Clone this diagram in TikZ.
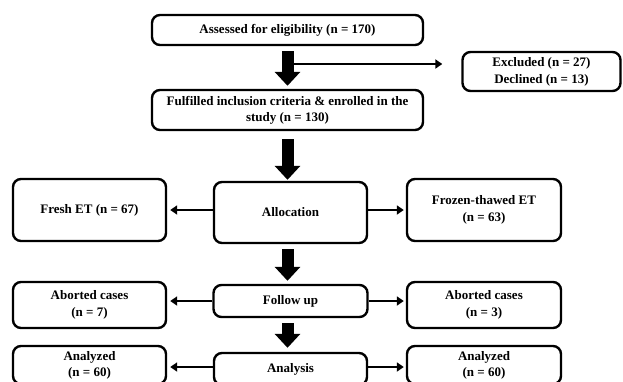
\documentclass[tikz,border=0pt]{standalone}
\usepackage{fontspec}
\setmainfont{Liberation Serif}
\usetikzlibrary{arrows.meta}
\newlength{\du}
\setlength{\du}{1pt}

\begin{document}
\begin{tikzpicture}[yscale=-1,
  box/.style={draw=black, line width=2.4\du, rounded corners=8\du, fill=white, align=center, inner sep=0pt, font=\fontsize{13}{16}\selectfont\bfseries},
  thinarrow/.style={draw=black, line width=2.2\du, -{Triangle[length=7pt,width=9pt]}},
  fatarrow/.style={draw=black, line width=12\du, -{Triangle[length=14pt,width=25pt]}}]
\useasboundingbox (0\du,0\du) rectangle (623\du,381\du);
\clip (0\du,0\du) rectangle (623\du,381\du);
% boxes
\node[box, minimum width=271\du, minimum height=30\du] (assess) at (287.5\du,30\du) {Assessed for eligibility (n = 170)};
\node[box, minimum width=271\du, minimum height=40\du] (fulfil) at (287.5\du,110\du) {Fulfilled inclusion criteria \& enrolled in the\\study (n = 130)};
\node[box, minimum width=158\du, minimum height=39\du, font=\fontsize{13}{17}\selectfont\bfseries] (excl) at (541.5\du,71.5\du) {Excluded (n = 27)\\Declined (n = 13)};
\node[box, minimum width=153\du, minimum height=61\du] (alloc) at (290.5\du,212.5\du) {Allocation};
\node[box, minimum width=153\du, minimum height=62\du] (fresh) at (89.5\du,210\du) {Fresh ET (n = 67)};
\node[box, minimum width=154\du, minimum height=62\du, font=\fontsize{13}{17}\selectfont\bfseries] (frozen) at (484\du,210\du) {Frozen-thawed ET\\(n = 63)};
\node[box, minimum width=154\du, minimum height=32\du] (follow) at (290.5\du,301\du) {Follow up};
\node[box, minimum width=153\du, minimum height=46\du, font=\fontsize{13}{17}\selectfont\bfseries] (abortl) at (89.5\du,305\du) {Aborted cases\\(n = 7)};
\node[box, minimum width=154\du, minimum height=46\du, font=\fontsize{13}{17}\selectfont\bfseries] (abortr) at (484\du,305\du) {Aborted cases\\(n = 3)};
\node[box, minimum width=153\du, minimum height=32\du] (analysis) at (290.5\du,369\du) {Analysis};
\node[box, minimum width=153\du, minimum height=38\du] (anall) at (89.5\du,365\du) {Analyzed\\(n = 60)};
\node[box, minimum width=154\du, minimum height=38\du] (analr) at (484\du,365\du) {Analyzed\\(n = 60)};
% main flow
\draw[fatarrow, shorten <=5pt, shorten >=3pt] (assess.south) -- (fulfil.north);
\draw[fatarrow, shorten <=8pt, shorten >=1pt] (fulfil.south) -- (fulfil.south |- alloc.north);
\draw[fatarrow, shorten <=5pt, shorten >=3pt] (alloc.south -| fulfil.south) -- (follow.north -| fulfil.south);
\draw[fatarrow, shorten <=5pt, shorten >=4pt] (follow.south -| fulfil.south) -- (analysis.north -| fulfil.south);
\coordinate (branch) at (287.5\du,64\du);
\draw[thinarrow, shorten >=19pt] (branch) -- (branch -| excl.west);
% side arrows
\draw[thinarrow, shorten >=3pt] (fresh.east -| alloc.west) -- (fresh.east);
\draw[thinarrow, shorten >=2pt] (frozen.west -| alloc.east) -- (frozen.west);
\draw[thinarrow, shorten >=3pt] (follow.west) -- (follow.west -| abortl.east);
\draw[thinarrow, shorten >=2pt] (follow.east) -- (follow.east -| abortr.west);
\draw[thinarrow, shorten >=3pt] ([yshift=-2\du]analysis.west) -- ([yshift=-2\du]analysis.west -| anall.east);
\draw[thinarrow, shorten >=2pt] ([yshift=-2\du]analysis.east) -- ([yshift=-2\du]analysis.east -| analr.west);
\end{tikzpicture}
\end{document}
